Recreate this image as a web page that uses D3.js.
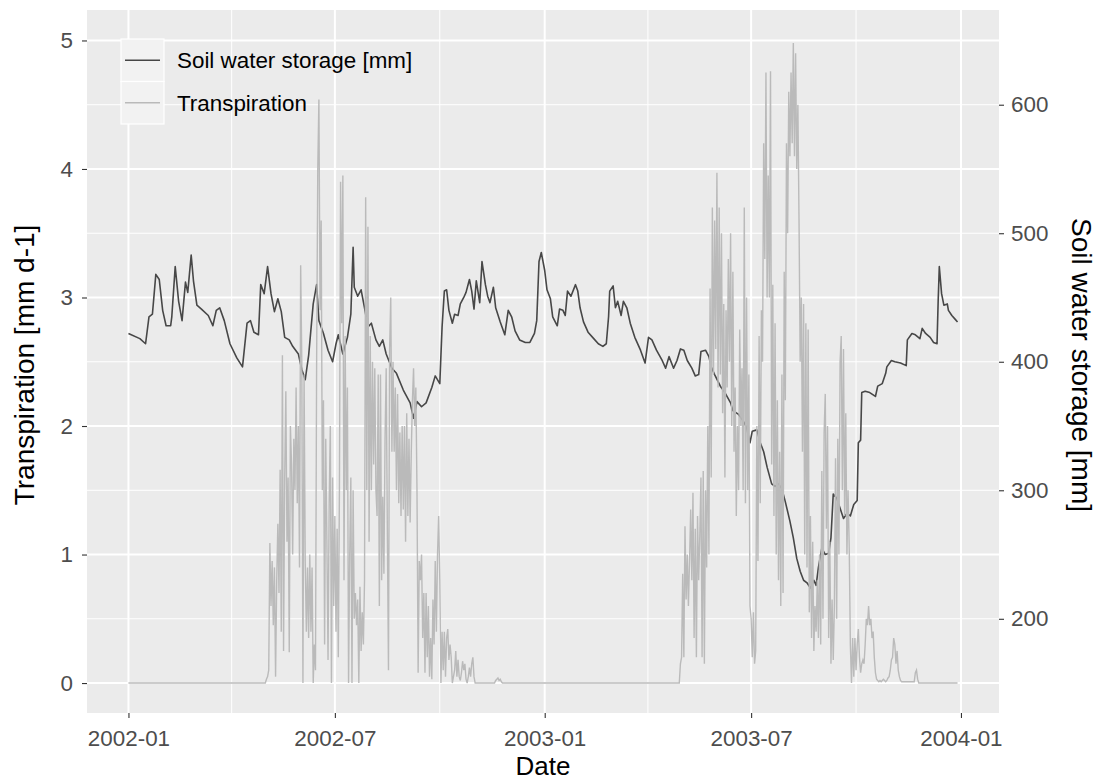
<!DOCTYPE html>
<html>
<head>
<meta charset="utf-8">
<script src="https://cdn.jsdelivr.net/npm/d3@7"></script>
<style>
  body { margin: 0; background: #ffffff; }
  text { font-family: "Liberation Sans", Arial, sans-serif; }
</style>
</head>
<body>
<div id="chart"></div>
<script>
// day offsets count from this date
var startDate = "2002-01-01";
var lastDay = 727;

// daily transpiration [mm d-1], zero outside the two growing seasons
var transp2002Start = 120;
var transp2002 = [
  0, 0.03, 0.05, 0.1, 1.09, 0.6, 0.95, 0.45, 0.9, 0.05,
  0.8, 1.24, 0.7, 1.66, 0.4, 2.55, 0.25, 1.6, 2.27, 1.1,
  1.6, 0.24, 2.0, 1.7, 1.0, 1.9, 1.5, 2.3, 1.4, 2.0,
  0.9, 3.25, 2.5, 0, 2.4, 0.95, 0.4, 0.9, 0.35, 1.0,
  0.4, 0.9, 0, 0.3, 0.1, 2.5, 4.0, 4.54, 2.9, 3.6,
  1.5, 2.2, 0.3, 1.9, 1.1, 0.18, 1.4, 2.0, 0, 1.6,
  0.6, 1.3, 0.4, 1.2, 0.2, 1.5, 3.9, 2.8, 3.95, 0.8,
  2.7, 1.5, 2.3, 0, 1.0, 1.6, 0, 1.5, 0.5, 0.7,
  0.45, 0.65, 0, 0.75, 0.25, 0.55, 0.3, 0.8, 3.78, 1.5,
  3.55, 1.1, 2.7, 1.5, 2.5, 1.7, 2.45, 1.5, 1.3, 2.4,
  0.6, 2.4, 0.8, 1.45, 0.85, 1.9, 2.45, 1.2, 0.1, 2.6,
  3.0, 1.8, 2.5, 1.8, 2.3, 1.5, 2.25, 1.4, 1.95, 1.3,
  2.0, 1.35, 2.0, 1.1, 2.1, 1.3, 1.9, 1.25, 1.8, 2.2,
  2.45, 2.0, 2.3, 1.5, 0.08, 0.95, 0.8, 1.0, 0.35, 0.7,
  0.08, 0.7, 0.2, 0.6, 0.05, 0.35, 0.03, 0.65, 0.3, 0.95,
  0.4, 1.0, 1.3, 0.8, 0, 0.4, 0.1, 0.4, 0.05, 0.35,
  0.42, 0.18, 0.3, 0.2, 0, 0.05, 0.1, 0.25, 0.05, 0.18,
  0.05, 0.02, 0.08, 0.17, 0.1, 0.15, 0.03, 0, 0.05, 0.12,
  0.05, 0.15, 0.2, 0.05, 0, 0, 0, 0, 0, 0,
  0, 0, 0, 0, 0, 0, 0, 0, 0, 0,
  0, 0, 0.02, 0.03, 0.04, 0.02, 0.03, 0.01
];
var transp2003Start = 483;
var transp2003 = [
  0, 0.15, 0.2, 0.85, 0.2, 1.22, 0.65, 1.0, 0.6, 0.95,
  1.35, 0.8, 1.48, 0.35, 1.2, 0.2, 1.3, 0.8, 1.15, 1.6,
  0.2, 1.65, 0.15, 1.5, 0.9, 2.0, 1.0, 3.07, 1.6, 3.7,
  2.4, 3.6, 2.6, 3.97, 2.3, 3.7, 2.4, 3.5, 2.1, 2.95,
  1.6, 2.9, 2.3, 3.3, 2.5, 3.5, 2.0, 3.2, 1.8, 2.3,
  1.3, 2.0, 1.5, 2.75, 2.0, 2.45, 1.5, 3.7, 1.4, 3.0,
  1.5, 2.4, 0.6, 0.5, 0.2, 0.55, 0.15, 0.25, 2.0, 0.95,
  2.7, 1.4, 2.9, 2.5, 4.2, 3.3, 4.75, 3.0, 3.95, 3.0,
  4.76, 1.7, 3.1, 1.3, 2.8, 1.0, 2.2, 0.8, 1.8, 0.6,
  2.4, 0.7, 3.2, 2.2, 4.2, 3.5, 4.6, 4.1, 4.75, 4.2,
  4.98, 4.1, 4.9, 4.0, 4.5, 3.6, 2.5, 3.0, 1.8, 2.95,
  1.0, 2.8, 0.9, 2.75, 0.55, 1.3, 0.35, 1.1, 0.25, 0.6,
  0.4, 0.8, 0.35, 1.0, 0.3, 1.65, 0.5, 1.95, 2.25, 1.2,
  2.0, 0.35, 1.1, 0.15, 0.65, 0.18, 0.6, 1.75, 0.5, 1.9,
  1.0, 2.5, 2.7, 1.5, 2.6, 1.3, 2.1, 1.0, 1.5, 1.07,
  0.3, 0, 0.35, 0.05, 0.35, 0.1, 0.3, 0.42, 0.2, 0.08,
  0.15, 0.18, 0.15, 0.3, 0.5, 0.45, 0.6, 0.45, 0.5, 0.35,
  0.4, 0.2, 0.08, 0.03, 0.02, 0.01, 0.02, 0.01, 0.02, 0.03,
  0.02, 0.01, 0.02, 0.04, 0.05, 0.1, 0.18, 0.2, 0.35, 0.3,
  0.15, 0.25, 0.1, 0.05, 0.02, 0.01, 0.01, 0.01, 0.01, 0.01,
  0.01, 0.01, 0.01, 0.01, 0.01, 0.01, 0.01, 0.08, 0.1, 0.03
];

// soil water storage [mm], read at the turning points of the line
var soilDays = [
  0, 10, 15, 18, 21, 24, 27, 30, 33, 37, 38, 41, 44, 47, 50, 52, 55, 57, 60, 64,
  70, 74, 77, 80, 84, 89, 95, 100, 104, 107, 110, 114, 116, 119, 122, 125, 128, 131, 134, 137,
  141, 144, 149, 152, 155, 158, 162, 165, 167, 171, 175, 179, 182, 184, 188, 192, 195, 197, 198, 201,
  204, 207, 210, 213, 217, 220, 223, 226, 231, 235, 241, 247, 250, 253, 257, 261, 266, 269, 273, 275,
  277, 279, 281, 284, 286, 289, 291, 294, 296, 299, 301, 303, 305, 308, 310, 313, 315, 317, 320, 322,
  326, 330, 333, 336, 339, 343, 348, 352, 356, 358, 360, 362, 365, 367, 370, 372, 376, 378, 381, 383,
  385, 388, 392, 394, 396, 399, 403, 408, 412, 416, 419, 421, 422, 425, 427, 429, 432, 434, 437, 440,
  444, 449, 453, 456, 459, 463, 468, 471, 474, 478, 481, 484, 487, 490, 494, 497, 500, 502, 506, 509,
  511, 514, 519, 523, 528, 530, 535, 539, 542, 545, 547, 551, 554, 557, 560, 564, 567, 570, 573, 576,
  580, 583, 586, 589, 592, 595, 598, 601, 603, 605, 608, 611, 614, 616, 618, 621, 624, 627, 630, 633,
  636, 639, 640, 642, 643, 646, 650, 655, 657, 661, 664, 665, 669, 672, 677, 682, 683, 687, 690, 694,
  696, 699, 703, 706, 709, 710, 711, 713, 715, 718, 719, 722, 725, 727
];
var soilMm = [
  422, 418, 414, 435, 437, 468, 464, 440, 428, 428, 435, 474, 447, 432, 462, 454, 483, 463, 444, 441,
  436, 428, 440, 442, 432, 414, 403, 396, 430, 432, 423, 421, 460, 453, 474, 453, 439, 449, 439, 419,
  417, 412, 406, 394, 386, 405, 445, 460, 432, 422, 409, 400, 414, 421, 406, 419, 437, 489, 458, 451,
  456, 442, 427, 430, 417, 412, 417, 406, 395, 391, 378, 368, 356, 369, 365, 368, 380, 389, 383, 427,
  455, 456, 440, 430, 437, 436, 445, 450, 454, 464, 455, 441, 463, 446, 478, 460, 451, 446, 458, 442,
  431, 421, 440, 435, 424, 417, 415, 415, 422, 432, 478, 485, 471, 456, 449, 435, 428, 441, 440, 436,
  455, 451, 460, 455, 442, 431, 423, 418, 414, 412, 414, 435, 455, 459, 442, 447, 436, 447, 442, 430,
  419, 409, 399, 419, 417, 409, 401, 395, 404, 395, 401, 410, 409, 401, 395, 389, 390, 408, 409, 404,
  396, 390, 381, 376, 368, 362, 359, 354, 349, 337, 346, 347, 337, 330, 318, 305, 303, 305, 301, 291,
  276, 263, 247, 237, 230, 228, 224, 230, 226, 240, 255, 250, 251, 263, 297, 294, 286, 278, 282, 280,
  289, 292, 337, 339, 376, 377, 376, 373, 381, 383, 391, 396, 401, 400, 399, 397, 417, 422, 421, 418,
  426, 422, 419, 415, 414, 447, 474, 453, 444, 445, 440, 436, 433, 431
];

var leftTicks = [0, 1, 2, 3, 4, 5];
var rightTicks = [200, 300, 400, 500, 600];
var dateTicks = ["2002-01-01", "2002-07-01", "2003-01-01", "2003-07-01", "2004-01-01"];
var seriesNames = ["Soil water storage [mm]", "Transpiration"];
var seriesColors = ["#474747", "#bababa"];

var width = 1097,
  height = 782;
var panel = { left: 87, right: 999, top: 10, bottom: 713 };

var parseDate = d3.utcParse("%Y-%m-%d");
var t0 = parseDate(startDate);
function dayDate(d) {
  return new Date(t0.getTime() + d * 864e5);
}

// ggplot style 5% padding on the date range
var pad = lastDay * 0.05;
var x = d3
  .scaleUtc()
  .domain([dayDate(-pad), dayDate(lastDay + pad)])
  .range([panel.left, panel.right]);

var y = d3.scaleLinear().domain([-0.233, 5.237]).range([panel.bottom, panel.top]);
// secondary axis: storage = transpiration * 100 + 150
var ySoil = d3
  .scaleLinear()
  .domain(y.domain().map(function (v) { return v * 100 + 150; }))
  .range(y.range());

var transpDaily = [];
for (var d = 0; d <= lastDay; d++) {
  var v = 0;
  if (d >= transp2002Start && d < transp2002Start + transp2002.length) {
    v = transp2002[d - transp2002Start];
  } else if (d >= transp2003Start && d < transp2003Start + transp2003.length) {
    v = transp2003[d - transp2003Start];
  }
  transpDaily.push({ date: dayDate(d), value: v });
}

var soil = soilDays.map(function (d, i) {
  return { date: dayDate(d), value: soilMm[i] };
});

var svg = d3
  .select("#chart")
  .append("svg")
  .attr("width", width)
  .attr("height", height);

svg.append("rect").attr("width", width).attr("height", height).attr("fill", "#ffffff");

svg
  .append("rect")
  .attr("x", panel.left)
  .attr("y", panel.top)
  .attr("width", panel.right - panel.left)
  .attr("height", panel.bottom - panel.top)
  .attr("fill", "#ebebeb");

// grid lines, minor first
var minorY = d3.range(0.5, 5, 1);
var majorDates = dateTicks.map(parseDate);
var minorDates = [];
for (var i = 0; i < majorDates.length - 1; i++) {
  minorDates.push(new Date((majorDates[i].getTime() + majorDates[i + 1].getTime()) / 2));
}

var grid = svg.append("g");
grid
  .selectAll(".minor-y")
  .data(minorY)
  .enter()
  .append("line")
  .attr("x1", panel.left)
  .attr("x2", panel.right)
  .attr("y1", function (d) { return y(d); })
  .attr("y2", function (d) { return y(d); })
  .attr("stroke", "#ffffff")
  .attr("stroke-width", 1);
grid
  .selectAll(".minor-x")
  .data(minorDates)
  .enter()
  .append("line")
  .attr("x1", function (d) { return x(d); })
  .attr("x2", function (d) { return x(d); })
  .attr("y1", panel.top)
  .attr("y2", panel.bottom)
  .attr("stroke", "#ffffff")
  .attr("stroke-width", 1);
grid
  .selectAll(".major-y")
  .data(leftTicks)
  .enter()
  .append("line")
  .attr("x1", panel.left)
  .attr("x2", panel.right)
  .attr("y1", function (d) { return y(d); })
  .attr("y2", function (d) { return y(d); })
  .attr("stroke", "#ffffff")
  .attr("stroke-width", 2);
grid
  .selectAll(".major-x")
  .data(majorDates)
  .enter()
  .append("line")
  .attr("x1", function (d) { return x(d); })
  .attr("x2", function (d) { return x(d); })
  .attr("y1", panel.top)
  .attr("y2", panel.bottom)
  .attr("stroke", "#ffffff")
  .attr("stroke-width", 2);

// soil water line under the transpiration line
svg
  .append("path")
  .datum(soil)
  .attr("fill", "none")
  .attr("stroke", seriesColors[0])
  .attr("stroke-width", 1.6)
  .attr("stroke-linejoin", "round")
  .attr(
    "d",
    d3
      .line()
      .x(function (d) { return x(d.date); })
      .y(function (d) { return ySoil(d.value); })
  );

svg
  .append("path")
  .datum(transpDaily)
  .attr("fill", "none")
  .attr("stroke", seriesColors[1])
  .attr("stroke-width", 1.4)
  .attr(
    "d",
    d3
      .line()
      .x(function (d) { return x(d.date); })
      .y(function (d) { return y(d.value); })
  );

// axes
function styleAxis(g) {
  g.select(".domain").remove();
  g.selectAll(".tick line").attr("stroke", "#333333").attr("stroke-width", 1.1);
  g.selectAll(".tick text")
    .attr("fill", "#4d4d4d")
    .style("font-size", "22.4px")
    .style("font-family", '"Liberation Sans", Arial, sans-serif');
}

svg
  .append("g")
  .attr("transform", "translate(" + panel.left + ",0)")
  .call(d3.axisLeft(y).tickValues(leftTicks).tickSize(5).tickPadding(9).tickFormat(d3.format("d")))
  .call(styleAxis);

svg
  .append("g")
  .attr("transform", "translate(" + panel.right + ",0)")
  .call(d3.axisRight(ySoil).tickValues(rightTicks).tickSize(5).tickPadding(7))
  .call(styleAxis);

svg
  .append("g")
  .attr("transform", "translate(0," + panel.bottom + ")")
  .call(
    d3
      .axisBottom(x)
      .tickValues(majorDates)
      .tickSize(5)
      .tickPadding(12)
      .tickFormat(d3.utcFormat("%Y-%m"))
  )
  .call(styleAxis);

// axis titles
svg
  .append("text")
  .attr("x", (panel.left + panel.right) / 2)
  .attr("y", 775)
  .attr("text-anchor", "middle")
  .style("font-size", "26px")
  .attr("fill", "#000000")
  .text("Date");

svg
  .append("text")
  .attr("transform", "translate(33.5,365) rotate(-90)")
  .attr("text-anchor", "middle")
  .style("font-size", "28px")
  .attr("fill", "#000000")
  .text("Transpiration [mm d-1]");

svg
  .append("text")
  .attr("transform", "translate(1072,365) rotate(90)")
  .attr("text-anchor", "middle")
  .style("font-size", "28px")
  .attr("fill", "#000000")
  .text("Soil water storage [mm]");

// legend inside the panel
var legend = svg.append("g").attr("transform", "translate(121,39)");
var key = legend
  .selectAll(".key")
  .data(seriesNames)
  .enter()
  .append("g")
  .attr("transform", function (d, i) {
    return "translate(0," + i * 42.5 + ")";
  });

key
  .append("rect")
  .attr("width", 43)
  .attr("height", 42.5)
  .attr("fill", "#f2f2f2")
  .attr("stroke", "#ffffff")
  .attr("stroke-width", 1.2);

key
  .append("line")
  .attr("x1", 4)
  .attr("x2", 39)
  .attr("y1", 21.25)
  .attr("y2", 21.25)
  .attr("stroke", function (d, i) { return seriesColors[i]; })
  .attr("stroke-width", 1.4);

key
  .append("text")
  .attr("x", 56)
  .attr("y", 21.25)
  .attr("dy", "0.35em")
  .style("font-size", "22.4px")
  .attr("fill", "#000000")
  .text(function (d) { return d; });
</script>
</body>
</html>
